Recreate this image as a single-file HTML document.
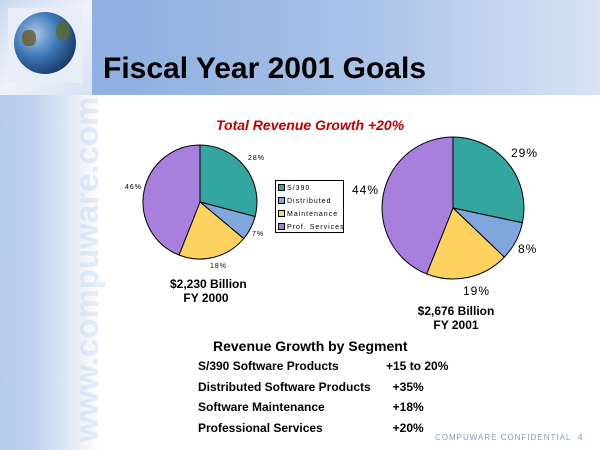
<!DOCTYPE html>
<html><head><meta charset="utf-8"><style>
body{margin:0;width:600px;height:450px;overflow:hidden;background:#fff;font-family:"Liberation Sans",Arial,sans-serif;position:relative}
.a{position:absolute;white-space:nowrap}
</style></head><body>
<div class="a" style="left:0;top:95px;width:100px;height:355px;background:linear-gradient(90deg,#b6cbec 0%,#bcd0ee 30%,#e6eef9 75%,#fff 100%)"></div>
<div class="a" style="left:-83px;top:252px;width:340px;height:40px;transform:rotate(-90deg);font-size:33px;line-height:40px;font-weight:bold;color:rgba(170,195,235,0.3);text-align:center">www.compuware.com</div>
<div class="a" style="left:0;top:0;width:600px;height:95px;background:linear-gradient(90deg,#8eaee0 0%,#8fb0e0 20%,#a9c2e8 60%,#d8e3f4 100%)"></div>
<div class="a" style="left:0;top:0;width:92px;height:95px;background:linear-gradient(135deg,#c9d8ef,#eef3fb 50%,#d5e1f2)"></div>
<div class="a" style="left:8px;top:8px;width:75px;height:75px;background:#e8eef8"></div>
<div class="a" style="left:14px;top:12px;width:62px;height:62px;border-radius:50%;background:radial-gradient(circle at 35% 35%,#a9c8e8 0%,#3d78b8 40%,#1c3c6a 75%,#0d1a30 100%)"></div>
<div class="a" style="left:22px;top:30px;width:14px;height:16px;border-radius:40%;background:#6b5a2a;opacity:.8"></div>
<div class="a" style="left:56px;top:22px;width:14px;height:18px;border-radius:40%;background:#5a6a2a;opacity:.8"></div>
<div class="a" style="left:103px;top:52px;font-size:30px;font-weight:bold;color:#000">Fiscal Year 2001 Goals</div>
<div class="a" style="left:216px;top:117px;font-size:14px;font-weight:bold;font-style:italic;color:#c00000">Total Revenue Growth +20%</div>
<svg class="a" style="left:0;top:0" width="600" height="450">
<g stroke="#000" stroke-width="1">
<path d="M200,202 L200,145 A57,57 0 0 1 255.1,216.5 Z" fill="#33a6a0"/>
<path d="M200,202 L255.1,216.5 A57,57 0 0 1 243.7,238.6 Z" fill="#7fa6dd"/>
<path d="M200,202 L243.7,238.6 A57,57 0 0 1 179,255 Z" fill="#fdd25f"/>
<path d="M200,202 L179,255 A57,57 0 0 1 200,145 Z" fill="#a97fdd"/>
<path d="M453,208 L453,137 A71,71 0 0 1 522.4,222.8 Z" fill="#33a6a0"/>
<path d="M453,208 L522.4,222.8 A71,71 0 0 1 504.3,257.1 Z" fill="#7fa6dd"/>
<path d="M453,208 L504.3,257.1 A71,71 0 0 1 426.6,273.9 Z" fill="#fdd25f"/>
<path d="M453,208 L426.6,273.9 A71,71 0 0 1 453,137 Z" fill="#a97fdd"/>
<rect x="275.5" y="180.5" width="68" height="52" fill="#fff"/>
<rect x="278.5" y="184.5" width="6" height="6" fill="#33a6a0"/>
<rect x="278.5" y="197.5" width="6" height="6" fill="#7fa6dd"/>
<rect x="278.5" y="210.5" width="6" height="6" fill="#fdd25f"/>
<rect x="278.5" y="223.5" width="6" height="6" fill="#a97fdd"/>
</g>
<g font-family="Liberation Sans,Arial,sans-serif" font-size="7" fill="#000" letter-spacing="1">
<text x="287" y="190">S/390</text><text x="287" y="203">Distributed</text><text x="287" y="216">Maintenance</text><text x="287" y="229">Prof. Services</text>
<text x="248" y="160">28%</text><text x="125" y="189">46%</text><text x="252" y="236">7%</text><text x="210" y="268">18%</text>
</g>
<g font-family="Liberation Sans,Arial,sans-serif" font-size="12" fill="#000" letter-spacing="1">
<text x="511" y="157">29%</text><text x="352" y="194">44%</text><text x="518" y="253">8%</text><text x="463" y="295">19%</text>
</g>
</svg>
<div class="a" style="left:170px;top:277px;width:72px;text-align:center;font-size:12px;font-weight:bold;line-height:14px">$2,230 Billion<br>FY 2000</div>
<div class="a" style="left:416px;top:304px;width:80px;text-align:center;font-size:12px;font-weight:bold;line-height:14px">$2,676 Billion<br>FY 2001</div>
<div class="a" style="left:213px;top:338px;font-size:14px;font-weight:bold">Revenue Growth by Segment</div>
<div class="a" style="left:198px;top:356px;font-size:12px;font-weight:bold;line-height:20.7px">S/390 Software Products<br>Distributed Software Products<br>Software Maintenance<br>Professional Services</div>
<div class="a" style="left:386px;top:356px;font-size:12px;font-weight:bold;line-height:20.7px">+15 to 20%<br>&nbsp;&nbsp;+35%<br>&nbsp;&nbsp;+18%<br>&nbsp;&nbsp;+20%</div>
<div class="a" style="left:435px;top:433px;font-size:8px;color:#7f9cc8;letter-spacing:1px">COMPUWARE CONFIDENTIAL</div>
<div class="a" style="left:578px;top:433px;font-size:8px;color:#7f9cc8">4</div>
</body></html>
